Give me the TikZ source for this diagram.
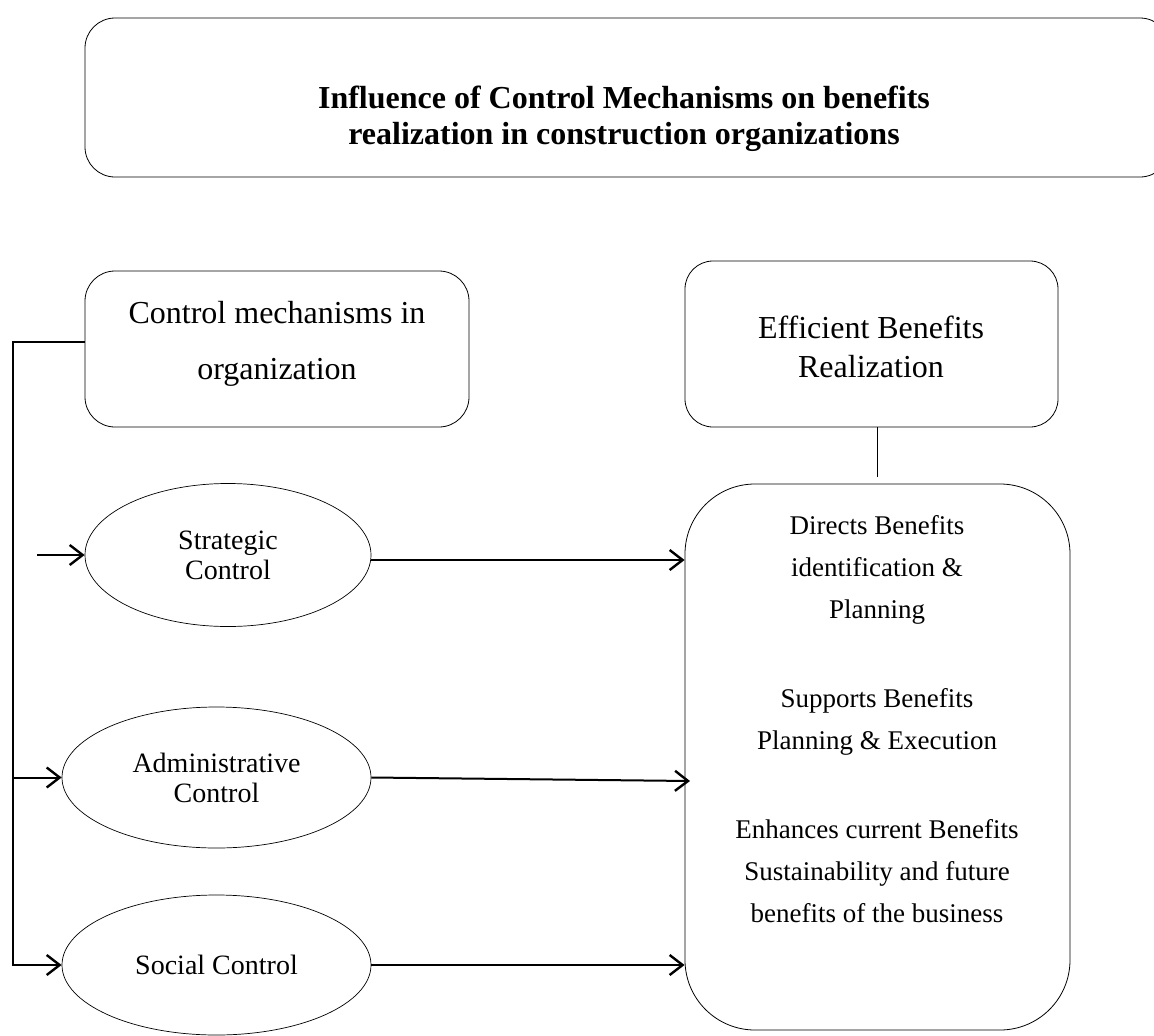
\documentclass[tikz,border=0pt]{standalone}
\usepackage{fontspec}
\setmainfont{Liberation Serif}
\usetikzlibrary{shapes.geometric,arrows.meta}
\begin{document}
\begin{tikzpicture}[x=1pt,y=-1pt,
  box/.style={draw, line width=0.8pt, rounded corners=#1, inner sep=0pt},
  ell/.style={draw, ellipse, line width=0.7pt, inner sep=0pt, align=center, font=\fontsize{28}{30}\selectfont},
  conn/.style={line width=2pt},
  arr/.style={line width=2pt, -{Straight Barb[length=13pt,width=20pt,line width=2.4pt]}},
  txt/.style={align=center, inner sep=0pt}]
\useasboundingbox (0,0) rectangle (1154,1036);
\fill[white] (0,0) rectangle (1154,1036);
% title
\node[box=30pt, minimum width=1085pt, minimum height=159pt] (title) at (627.5,97.5) {};
\node[txt, font=\bfseries\fontsize{32}{36}\selectfont] (ttl) at (624,119) {Influence of Control Mechanisms on benefits\\realization in construction organizations};
% control box
\node[box=30pt, minimum width=384pt, minimum height=156pt] (ctrl) at (277,349) {};
\node[txt, font=\fontsize{32}{56}\selectfont] (ctrlt) at (277,344) {Control mechanisms in\\organization};
% efficient box
\node[box=28pt, minimum width=373pt, minimum height=166pt] (eff) at (871.5,344) {};
\node[txt, font=\fontsize{32}{39}\selectfont] (efft) at (871,346.5) {Efficient Benefits\\Realization};
% big box
\node[box=70pt, minimum width=385pt, minimum height=546pt] (big) at (877.5,757) {};
\node[txt, font=\fontsize{27}{42}\selectfont] (b1) at (877,570) {Directs Benefits\\identification \&\\Planning};
\node[txt, font=\fontsize{27}{42}\selectfont] (b2) at (877,721.5) {Supports Benefits\\Planning \& Execution};
\node[txt, font=\fontsize{27}{42}\selectfont] (b3) at (877,871.5) {Enhances current Benefits\\Sustainability and future\\benefits of the business};
% ellipses
\node[ell, minimum width=286pt, minimum height=143pt] (strat) at (228,555) {Strategic\\Control};
\node[ell, minimum width=309pt, minimum height=141pt] (adm) at (216.5,777.5) {Administrative\\Control};
\node[ell, minimum width=309pt, minimum height=140pt] (soc) at (216.5,965) {Social Control};
% connectors
\coordinate (busTop) at (13,342);
\coordinate (sIn) at (37,555);
\coordinate (aEnd) at (690,781);
\draw[arr] ([yshift=7pt]ctrl.west) -- (busTop) -- (busTop |- soc.west) -- (soc.west);
\draw[arr] (busTop |- adm.west) -- (adm.west);
\draw[arr] (sIn) -- (strat.west);
\draw[arr] ([yshift=-5pt]strat.east) -- ([yshift=-5pt]strat.east -| big.west);
\draw[arr] (adm.east) -- (aEnd);
\draw[arr] (soc.east) -- (soc.east -| big.west);
\draw[line width=1.2pt] (big.north |- eff.south) -- ([yshift=7pt]big.north);
\end{tikzpicture}
\end{document}
